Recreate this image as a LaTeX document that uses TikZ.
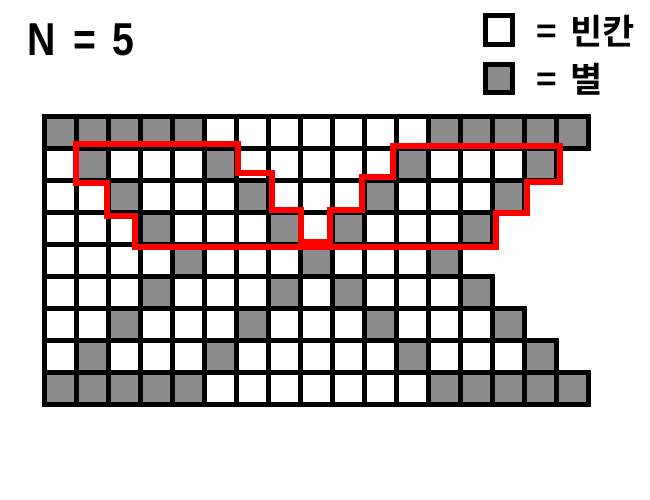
\documentclass[tikz,border=0pt]{standalone}
\usepackage{fontspec}
\newfontfamily\latfont[FakeStretch=0.85]{Liberation Sans}
\newfontfamily\kofont{Noto Sans CJK KR Bold}
\definecolor{cellgray}{RGB}{140,140,140}
\definecolor{pathred}{RGB}{255,0,0}
\begin{document}
\begin{tikzpicture}[x=0.75pt,y=-0.75pt,
  cellline/.style={draw=black,line width=3.75pt},
  redline/.style={draw=pathred,line width=4.5pt,line join=miter},
  legbox/.style={draw=black,line width=3.75pt,inner sep=0pt,minimum width=20pt,minimum height=21.3pt},
  titletext/.style={anchor=base west,inner sep=0pt,font=\latfont\bfseries\fontsize{34.6}{40}\selectfont},
  legtext/.style={anchor=base west,inner sep=0pt,font=\kofont\fontsize{26.25}{30}\selectfont}]
\useasboundingbox[fill=white] (0,0) rectangle (650,500);
% cell fills
\foreach \r in {0,...,8} {
  \pgfmathtruncatemacro\L{13+abs(\r-4)-1}
  \pgfmathtruncatemacro\d{min(\r,8-\r)}
  \foreach \c in {0,...,\L} {
    \pgfmathtruncatemacro\g{(\d==0)*((\c<5)||(\c>11)) + (\d>0)*((\c==\d)||(\c==\d+4)||(\c==16-\d)||(\c==12-\d))}
    \ifnum\g>0
      \fill[cellgray] (44+32*\c,116+32*\r) rectangle ++(32,32);
    \else
      \fill[white] (44+32*\c,116+32*\r) rectangle ++(32,32);
    \fi
  }
}
% cell borders
\foreach \r in {0,...,8} {
  \pgfmathtruncatemacro\L{13+abs(\r-4)-1}
  \foreach \c in {0,...,\L} {
    \draw[cellline] (44+32*\c,116+32*\r) rectangle ++(32,32);
  }
}
% red outline
\draw[redline] (76,144) -- (238,144) -- (238,173) -- (272,173) -- (272,210)
  -- (301,210) -- (301,242) -- (330,242) -- (330,210) -- (362,210) -- (362,177)
  -- (393,177) -- (393,146) -- (560,146) -- (560,182) -- (527,182) -- (527,213)
  -- (496,213) -- (496,247) -- (135,247) -- (135,216) -- (107,216) -- (107,183)
  -- (76,183) -- cycle;
% title
\node[titletext] (title) at (27,55) {N\hspace{13.5pt}=\hspace{11.9pt}5};
% legend
\node[legbox,fill=white] (blankbox) at (499.1,30) {};
\node[legbox,fill=cellgray] (starbox) at (499.1,78.4) {};
\node[legtext] (blanktext) at (536,44.5) {=\hspace{10pt}빈칸};
\node[legtext] (startext) at (536,92.5) {=\hspace{10pt}별};
\end{tikzpicture}
\end{document}
